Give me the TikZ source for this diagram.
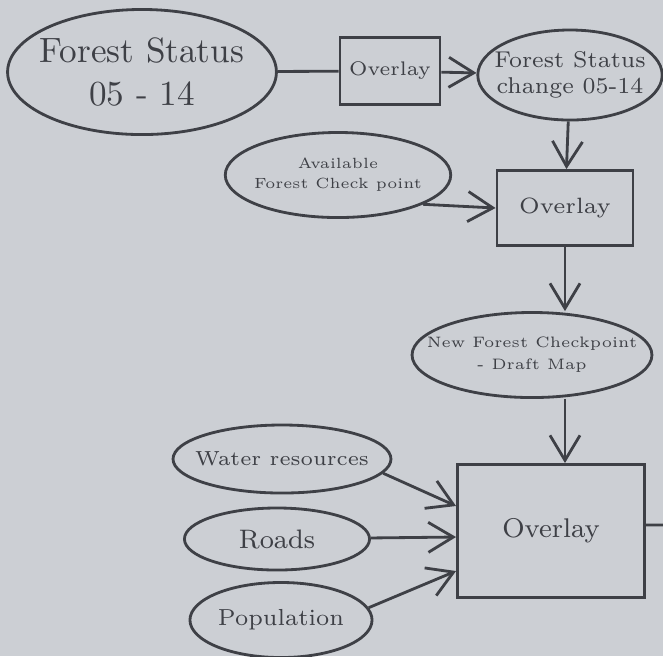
\documentclass[tikz,border=0pt]{standalone}
\usepackage{tikz}
\usetikzlibrary{arrows.meta,shapes.geometric}

\definecolor{pencil}{RGB}{62,64,70}
\definecolor{paper}{RGB}{204,207,212}

\tikzset{
	layer/.style={ellipse, draw, thick, inner sep=0pt, align=center},
	opbox/.style={rectangle, draw, thick, inner sep=0pt, align=center},
	fs/.style={font=\fontsize{#1}{#1}\selectfont}
}

\begin{document}
\begin{tikzpicture}[x=0.01cm, y=-0.01cm, >={Straight Barb[length=2.5mm,width=3mm]}, thick, color=pencil]
	% Sheet
	\fill [paper] (0,0) rectangle (663,656);
	\useasboundingbox (0,0) rectangle (663,656);

	% Nodes {fs, ov1, fsc, afc, ov2, nfc, ov3, wr, rd, pop}
	\node [layer, fs=10, inner xsep=-2pt, minimum width=2.65cm, minimum height=1.25cm] 	(fs)  at (142,72)  {Forest Status\\[2pt]05 - 14};
	\node [opbox, fs=5.6, minimum width=1.0cm, minimum height=0.67cm] 	(ov1) at (390,71)  {Overlay};
	\node [layer, fs=6.5, inner xsep=-3pt, minimum width=1.8cm, minimum height=0.9cm] 	(fsc) at (570,75)  {Forest Status\\[1pt]change 05-14};
	\node [layer, fs=4.2, inner xsep=-1.2pt, minimum width=2.22cm, minimum height=0.85cm] 	(afc) at (338,175) {Available\\[1.5pt]Forest Check point};
	\node [opbox, fs=6.3, minimum width=1.36cm, minimum height=0.75cm] 	(ov2) at (565,208) {Overlay};
	\node [layer, fs=4.3, inner xsep=-5.8pt, minimum width=2.37cm, minimum height=0.85cm] 	(nfc) at (532,355) {New Forest Checkpoint\\[2pt]- Draft Map};
	\node [opbox, fs=7.7, minimum width=1.87cm, minimum height=1.33cm] 	(ov3) at (551,531) {Overlay};
	\node [layer, fs=5.8, inner xsep=-2.8pt, minimum width=2.15cm, minimum height=0.68cm] 	(wr)  at (282,459) {Water resources};
	\node [layer, fs=7.6, minimum width=1.85cm, minimum height=0.62cm] 	(rd)  at (277,539) {Roads};
	\node [layer, fs=6.6, minimum width=1.82cm, minimum height=0.75cm] 	(pop) at (281,620) {Population};
	\coordinate 													(out) at (663,525);

	% Paths for top row
	\path [-] 	(fs) 	 edge 	(ov1);
	\path [->] 	(ov1) 	 edge 	(fsc);
	\path [->] 	(fsc) 	 edge 	(ov2);
	\path [->] 	(afc.-19) edge 	(ov2.west);

	% Paths down the right column
	\path [->] 	(ov2) 	 			edge 	(ov2.south |- nfc.north);
	\path [->] 	(ov2.south |- nfc.south) 	edge 	(ov2.south |- ov3.north);

	% Paths into the last overlay
	\path [->] 	(wr.-8) 	edge 	([yshift=0.25cm]ov3.west);
	\path [->] 	(rd) 		edge 	([yshift=-0.06cm]ov3.west);
	\path [->] 	(pop.8) 	edge 	([yshift=-0.4cm]ov3.west);
	\path [-] 	([yshift=0.06cm]ov3.east) 	edge 	(out);

\end{tikzpicture}
\end{document}
